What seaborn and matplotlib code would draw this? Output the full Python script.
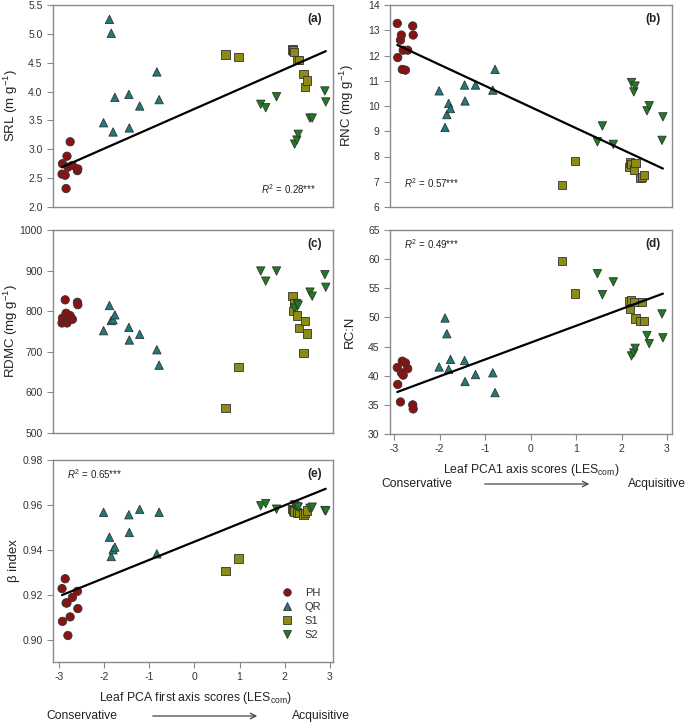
import numpy as np
import pandas as pd
import matplotlib
matplotlib.use("Agg")
import matplotlib.pyplot as plt
import seaborn as sns

# Leaf PCA1 scores (LES_com) per site
les_ph = [-2.93, -2.92, -2.86, -2.84, -2.82, -2.80, -2.75, -2.70, -2.59, -2.58]
les_qr = [-2.01, -1.88, -1.84, -1.80, -1.76, -1.45, -1.44, -1.21, -0.83, -0.78]
les_s1 = [0.69, 0.98, 2.17, 2.19, 2.21, 2.28, 2.31, 2.42, 2.45, 2.50]
les_s2 = [1.47, 1.58, 1.82, 2.22, 2.27, 2.30, 2.56, 2.61, 2.89, 2.91]

# SRL (m g-1)
srl_ph = [2.57, 2.75, 2.55, 2.32, 2.88, 2.69, 3.13, 2.72, 2.63, 2.66]
srl_qr = [3.46, 5.25, 5.01, 3.30, 3.90, 3.95, 3.37, 3.75, 4.34, 3.86]
srl_s1 = [4.64, 4.60, 4.73, 4.71, 4.69, 4.55, 4.55, 4.31, 4.08, 4.19]
srl_s2 = [3.78, 3.72, 3.91, 3.09, 3.16, 3.26, 3.54, 3.54, 4.01, 3.82]

# RNC (mg g-1)
rnc_ph = [13.27, 11.92, 12.61, 12.81, 11.45, 12.21, 11.42, 12.21, 13.17, 12.81]
rnc_qr = [10.60, 9.15, 9.66, 10.10, 9.90, 10.83, 10.20, 10.83, 10.63, 11.45]
rnc_s1 = [6.88, 7.82, 7.58, 7.76, 7.70, 7.49, 7.74, 7.16, 7.20, 7.28]
rnc_s2 = [8.58, 9.21, 8.48, 10.93, 10.56, 10.79, 9.81, 10.01, 8.64, 9.57]

# RDMC (mg g-1)
rdmc_ph = [771, 783, 828, 795, 771, 783, 789, 780, 822, 816]
rdmc_qr = [752, 814, 777, 779, 791, 760, 729, 743, 705, 667]
rdmc_s1 = [562, 663, 837, 801, 820, 789, 758, 697, 776, 745]
rdmc_s2 = [899, 874, 899, 808, 819, 815, 847, 837, 890, 859]

# RC:N
rcn_ph = [41.4, 38.5, 35.5, 40.5, 42.5, 40.1, 42.2, 41.2, 35.0, 34.3]
rcn_qr = [41.5, 49.9, 47.2, 41.1, 42.8, 42.6, 39.0, 40.2, 40.5, 37.1]
rcn_s1 = [59.7, 54.1, 52.8, 51.4, 53.0, 52.6, 49.8, 49.4, 52.7, 49.4]
rcn_s2 = [57.5, 53.9, 56.1, 43.4, 43.9, 44.7, 46.9, 45.5, 50.6, 46.5]

# beta index
beta_ph = [0.9227, 0.9081, 0.9271, 0.9163, 0.9163, 0.9018, 0.9101, 0.9188, 0.9215, 0.9138]
beta_qr = [0.9567, 0.9456, 0.9370, 0.9400, 0.9412, 0.9556, 0.9477, 0.9580, 0.9382, 0.9567]
beta_s1 = [0.9304, 0.9361, 0.9581, 0.9575, 0.9570, 0.9566, 0.9563, 0.9557, 0.9565, 0.9575]
beta_s2 = [0.9596, 0.9606, 0.9581, 0.9600, 0.9593, 0.9590, 0.9585, 0.9590, 0.9575, 0.9573]

sites = ["PH", "QR", "S1", "S2"]
r2_text = {"srl": "0.28", "rnc": "0.57", "rcn": "0.49", "beta": "0.65"}

df = pd.DataFrame({
    "site": np.repeat(sites, 10),
    "les": les_ph + les_qr + les_s1 + les_s2,
    "srl": srl_ph + srl_qr + srl_s1 + srl_s2,
    "rnc": rnc_ph + rnc_qr + rnc_s1 + rnc_s2,
    "rdmc": rdmc_ph + rdmc_qr + rdmc_s1 + rdmc_s2,
    "rcn": rcn_ph + rcn_qr + rcn_s1 + rcn_s2,
    "beta": beta_ph + beta_qr + beta_s1 + beta_s2,
})

sns.set_style("white")
plt.rcParams["font.family"] = ["Liberation Sans", "DejaVu Sans"]
plt.rcParams["mathtext.fontset"] = "custom"
plt.rcParams["mathtext.rm"] = "Liberation Sans"
plt.rcParams["mathtext.it"] = "Liberation Sans:italic"
plt.rcParams["mathtext.bf"] = "Liberation Sans:bold"
plt.rcParams["axes.unicode_minus"] = False

palette = {"PH": "#8b1212", "QR": "#1f7a7a", "S1": "#8c8c14", "S2": "#1e7d1e"}
markers = {"PH": "o", "QR": "^", "S1": "s", "S2": "v"}

fig = plt.figure(figsize=(6.85, 7.23), dpi=100)
W, H = 685, 723

def add_ax(l, t, r, b):
    return fig.add_axes([l / W, 1 - b / H, (r - l) / W, (b - t) / H])

ax_a = add_ax(53, 5, 333, 207)
ax_b = add_ax(390, 5, 672, 207)
ax_c = add_ax(53, 230, 333, 433)
ax_d = add_ax(390, 230, 672, 434)
ax_e = add_ax(53, 460, 333, 662)

panels = [
    (ax_a, "srl", "SRL (m g$^{-1}$)", (2.0, 5.5), np.arange(2.0, 5.51, 0.5), "{:.1f}", "(a)", "lr", (-3.13, 3.07)),
    (ax_b, "rnc", "RNC (mg g$^{-1}$)", (6, 14), np.arange(6, 15, 1), "{:.0f}", "(b)", "ll", (-3.09, 3.11)),
    (ax_c, "rdmc", "RDMC (mg g$^{-1}$)", (500, 1000), np.arange(500, 1001, 100), "{:.0f}", "(c)", None, (-3.13, 3.07)),
    (ax_d, "rcn", "RC:N", (30, 65), np.arange(30, 66, 5), "{:.0f}", "(d)", "ul", (-3.09, 3.11)),
    (ax_e, "beta", "β index", (0.89, 0.98), np.arange(0.90, 0.981, 0.02), "{:.2f}", "(e)", "ul", (-3.13, 3.07)),
]

for ax, col, ylab, ylim, yt, fmt, tag, r2pos, xlim in panels:
    sns.scatterplot(data=df, x="les", y=col, hue="site", style="site",
                    palette=palette, markers=markers, s=36,
                    edgecolor="#333333", linewidth=0.6, ax=ax,
                    legend=(ax is ax_e), zorder=3)
    if col in r2_text:
        # standardised major axis fit through the points
        x = df["les"].to_numpy()
        y = df[col].to_numpy()
        r = np.corrcoef(x, y)[0, 1]
        slope = np.sign(r) * y.std() / x.std()
        icpt = y.mean() - slope * x.mean()
        xs = np.array([x.min(), x.max()])
        sns.lineplot(x=xs, y=icpt + slope * xs, color="black", lw=1.6,
                     ax=ax, zorder=4)
    ax.set_xlim(*xlim)
    ax.set_ylim(*ylim)
    ax.set_yticks(yt)
    ax.set_yticklabels([fmt.format(v) for v in yt])
    ax.set_ylabel(ylab, fontsize=9.5, color="#222222")
    ax.set_xlabel("")
    for sp in ax.spines.values():
        sp.set_color("#8a8a8a")
        sp.set_linewidth(1.0)
    ax.tick_params(axis="y", direction="out", length=4, width=0.8,
                   color="#8a8a8a", labelsize=7.5, labelcolor="#333333", left=True)
    if ax in (ax_d, ax_e):
        ax.set_xticks([-3, -2, -1, 0, 1, 2, 3])
        ax.tick_params(axis="x", direction="out", length=4, width=0.8,
                       color="#8a8a8a", labelsize=7.5, labelcolor="#333333", bottom=True)
    else:
        ax.tick_params(axis="x", bottom=False, labelbottom=False)
    ax.text(0.96, 0.93, tag, transform=ax.transAxes, ha="right", va="center",
            fontsize=8.5, fontweight="bold", color="#222222")
    r2_str = "$R^2$ = " + r2_text.get(col, "") + "***"
    if r2pos == "lr":
        ax.text(0.94, 0.09, r2_str, transform=ax.transAxes,
                ha="right", va="center", fontsize=7, color="#222222")
    elif r2pos == "ll":
        ax.text(0.05, 0.12, r2_str, transform=ax.transAxes,
                ha="left", va="center", fontsize=7, color="#222222")
    elif r2pos == "ul":
        ax.text(0.05, 0.93, r2_str, transform=ax.transAxes,
                ha="left", va="center", fontsize=7, color="#222222")

# y-label positions as in the reference
for ax in (ax_a, ax_c, ax_e):
    ax.yaxis.set_label_coords(-0.118, 0.5)
for ax in (ax_b, ax_d):
    ax.yaxis.set_label_coords(-0.122, 0.5)

# legend in panel (e)
handles, labels = ax_e.get_legend_handles_labels()
ax_e.legend(handles, labels, loc="lower left", bbox_to_anchor=(0.76, 0.06),
            frameon=False, fontsize=8, handletextpad=0.6, labelspacing=0.35,
            markerscale=0.9, labelcolor="#333333")

# x-axis titles with Conservative -> Acquisitive arrows
def axis_caption(label, x_label, y_label, y_arrow, x_cons, x_arr0, x_arr1, x_acq):
    fig.text(x_label / W, 1 - y_label / H, label, ha="center", va="center",
             fontsize=8.8, color="#222222")
    fig.text(x_cons / W, 1 - y_arrow / H, "Conservative", ha="center", va="center",
             fontsize=8.7, color="#222222")
    fig.text(x_acq / W, 1 - y_arrow / H, "Acquisitive", ha="left", va="center",
             fontsize=8.7, color="#222222")
    fig.add_artist(matplotlib.patches.FancyArrowPatch(
        (x_arr0 / W, 1 - y_arrow / H), (x_arr1 / W, 1 - y_arrow / H),
        transform=fig.transFigure, arrowstyle="->", mutation_scale=10,
        color="#444444", lw=0.9))

lab_e = "Leaf PCA first axis scores (LES$_{\\mathrm{com}}$)"
lab_d = "Leaf PCA1 axis scores (LES$_{\\mathrm{com}}$)"
axis_caption(lab_e, 195, 698, 716, 82, 150, 260, 292)
axis_caption(lab_d, 531, 470, 484, 417, 482, 592, 628)

fig.savefig("out.png", dpi=100)
